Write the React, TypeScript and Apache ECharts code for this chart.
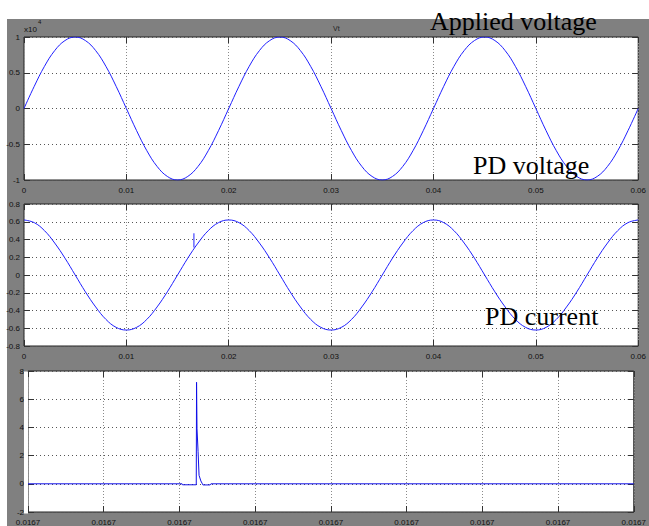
import React, { useEffect, useRef } from "react";
import * as echarts from "echarts";

// ---- Data ----
const TIME_STEP = 0.001; // s, sampling grid of the scope traces

// Applied voltage (x10^4 V)
const appliedVoltage = [
  0, 0.31, 0.59, 0.81, 0.95, 1, 0.95, 0.81, 0.59, 0.31,
  0, -0.31, -0.59, -0.81, -0.95, -1, -0.95, -0.81, -0.59, -0.31,
  0, 0.31, 0.59, 0.81, 0.95, 1, 0.95, 0.81, 0.59, 0.31,
  0, -0.31, -0.59, -0.81, -0.95, -1, -0.95, -0.81, -0.59, -0.31,
  0, 0.31, 0.59, 0.81, 0.95, 1, 0.95, 0.81, 0.59, 0.31,
  0, -0.31, -0.59, -0.81, -0.95, -1, -0.95, -0.81, -0.59, -0.31,
  0,
];

// PD voltage
const pdVoltage = [
  0.62, 0.59, 0.5, 0.36, 0.19, 0, -0.19, -0.36, -0.5, -0.59,
  -0.62, -0.59, -0.5, -0.36, -0.19, 0, 0.19, 0.36, 0.5, 0.59,
  0.62, 0.59, 0.5, 0.36, 0.19, 0, -0.19, -0.36, -0.5, -0.59,
  -0.62, -0.59, -0.5, -0.36, -0.19, 0, 0.19, 0.36, 0.5, 0.59,
  0.62, 0.59, 0.5, 0.36, 0.19, 0, -0.19, -0.36, -0.5, -0.59,
  -0.62, -0.59, -0.5, -0.36, -0.19, 0, 0.19, 0.36, 0.5, 0.59,
  0.62,
];
const pdGlitchT = [0.0166, 0.0166];
const pdGlitchV = [0.31, 0.47];

// PD current (zoomed time axis, tick units)
const pdCurrentX = [0, 2.035, 2.04, 2.222, 2.226, 2.232, 2.246, 2.259, 2.283, 2.303, 2.31, 2.405, 2.415, 8];
const pdCurrentY = [0, 0, -0.07, -0.07, 7.2, 3.9, 2.3, 0.6, 0.2, 0, -0.08, -0.08, 0, 0];

// Tick labels
const timeTickLabels = ["0", "0.01", "0.02", "0.03", "0.04", "0.05", "0.06"];
const voltageTickLabels = ["-1", "-0.5", "0", "0.5", "1"];
const pdVoltageTickLabels = ["-0.8", "-0.6", "-0.4", "-0.2", "0", "0.2", "0.4", "0.6", "0.8"];
const pdCurrentXTickLabels = ["0.0167", "0.0167", "0.0167", "0.0167", "0.0167", "0.0167", "0.0167", "0.0167", "0.0167"];
const pdCurrentYTickLabels = ["-2", "0", "2", "4", "6", "8"];

const LABEL_FONT = "Liberation Sans";
const LINE_COLOR = "#1f1fff";

function fmt(labels: string[], min: number, interval: number) {
  return (v: number) => {
    const i = Math.round((v - min) / interval);
    return labels[i] ?? "";
  };
}

const tickStyle = { show: true, inside: true, length: 6, lineStyle: { color: "#333", width: 1 } };

function xAxes(gridIndex: number, min: number, max: number, interval: number, labels: string[]) {
  return [
    {
      type: "value", gridIndex, min, max, interval, position: "bottom",
      axisLine: { show: false, onZero: false },
      axisTick: tickStyle,
      axisLabel: {
        show: true, margin: 6, fontSize: 8, color: "#111", fontFamily: LABEL_FONT,
        formatter: fmt(labels, min, interval), showMinLabel: true, showMaxLabel: true,
      },
      splitLine: { show: true, lineStyle: { color: "#8a8a8a", type: [1, 2], width: 1 } },
    },
    {
      type: "value", gridIndex, min, max, interval, position: "top",
      axisLine: { show: false, onZero: false },
      axisTick: tickStyle,
      axisLabel: { show: false },
      splitLine: { show: false },
    },
  ];
}

function yAxes(gridIndex: number, min: number, max: number, interval: number, labels: string[]) {
  return [
    {
      type: "value", gridIndex, min, max, interval, position: "left",
      axisLine: { show: false, onZero: false },
      axisTick: tickStyle,
      axisLabel: {
        show: true, margin: 4, fontSize: 8, color: "#111", fontFamily: LABEL_FONT,
        formatter: fmt(labels, min, interval), showMinLabel: true, showMaxLabel: true,
      },
      splitLine: { show: true, lineStyle: { color: "#555", type: [1, 3], width: 1 } },
    },
    {
      type: "value", gridIndex, min, max, interval, position: "right",
      axisLine: { show: false, onZero: false },
      axisTick: tickStyle,
      axisLabel: { show: false },
      splitLine: { show: false },
    },
  ];
}

export default function App() {
  const ref = useRef<HTMLDivElement>(null);
  useEffect(() => {
    if (!ref.current) return;
    const chart = echarts.init(ref.current, undefined, { renderer: "svg" });

    const voltageData = appliedVoltage.map((v, i) => [i * TIME_STEP, v]);
    const pdVoltageData = pdVoltage.map((v, i) => [i * TIME_STEP, v]);
    const glitchData = pdGlitchT.map((t, i) => [t, pdGlitchV[i]]);
    const currentData = pdCurrentX.map((x, i) => [x, pdCurrentY[i]]);

    const gridStyle = { show: true, backgroundColor: "#fff", borderColor: "#222", borderWidth: 1, containLabel: false };

    const option: any = {
      animation: false,
      backgroundColor: "#fff",
      grid: [
        { ...gridStyle, left: 24, top: 37, width: 618, height: 143 },
        { ...gridStyle, left: 24, top: 204, width: 618, height: 142 },
        { ...gridStyle, left: 28, top: 371, width: 613, height: 143 },
      ],
      xAxis: [
        ...xAxes(0, 0, 0.06, 0.01, timeTickLabels),
        ...xAxes(1, 0, 0.06, 0.01, timeTickLabels),
        ...xAxes(2, 0, 8, 1, pdCurrentXTickLabels),
      ],
      yAxis: [
        ...yAxes(0, -1, 1, 0.5, voltageTickLabels),
        ...yAxes(1, -0.8, 0.8, 0.2, pdVoltageTickLabels),
        ...yAxes(2, -2, 8, 2, pdCurrentYTickLabels),
      ],
      series: [
        {
          type: "line", xAxisIndex: 0, yAxisIndex: 0, data: voltageData, smooth: 0.4,
          showSymbol: false, lineStyle: { color: LINE_COLOR, width: 1 },
        },
        {
          type: "line", xAxisIndex: 2, yAxisIndex: 2, data: pdVoltageData, smooth: 0.4,
          showSymbol: false, lineStyle: { color: LINE_COLOR, width: 1 },
        },
        {
          type: "line", xAxisIndex: 2, yAxisIndex: 2, data: glitchData,
          showSymbol: false, lineStyle: { color: LINE_COLOR, width: 1 },
        },
        {
          type: "line", xAxisIndex: 4, yAxisIndex: 4, data: currentData,
          showSymbol: false, lineStyle: { color: "#1010e8", width: 1 },
        },
      ],
      graphic: [
        { type: "rect", z: -10, shape: { x: 7, y: 19, width: 642, height: 507 }, style: { fill: "#808080" } },
        { type: "rect", z: 5, shape: { x: 24, y: 371.5, width: 4, height: 142 }, style: { fill: "#fff" } },
        { type: "text", z: 10, style: { text: "x10", x: 24, y: 29, fontSize: 8, fontFamily: LABEL_FONT, fill: "#111", verticalAlign: "middle" } },
        { type: "text", z: 10, style: { text: "4", x: 38, y: 22, fontSize: 6, fontFamily: LABEL_FONT, fill: "#111", verticalAlign: "middle" } },
        { type: "text", z: 10, style: { text: "Vt", x: 333, y: 28, fontSize: 7, fontFamily: LABEL_FONT, fill: "#222", verticalAlign: "middle" } },
        { type: "text", z: 20, style: { text: "Applied voltage", x: 430, y: 21, font: '26px "Liberation Serif"', fill: "#000", verticalAlign: "middle" } },
        { type: "text", z: 20, style: { text: "PD voltage", x: 473, y: 165, font: '26px "Liberation Serif"', fill: "#000", verticalAlign: "middle" } },
        { type: "text", z: 20, style: { text: "PD current", x: 485, y: 316, font: '26px "Liberation Serif"', fill: "#000", verticalAlign: "middle" } },
      ],
    };
    chart.setOption(option);
    return () => chart.dispose();
  }, []);

  return (
    <div style={{ position: "absolute", left: 0, top: 0, width: 649, height: 526, background: "#fff" }}>
      <div ref={ref} style={{ width: 649, height: 526 }} />
    </div>
  );
}
